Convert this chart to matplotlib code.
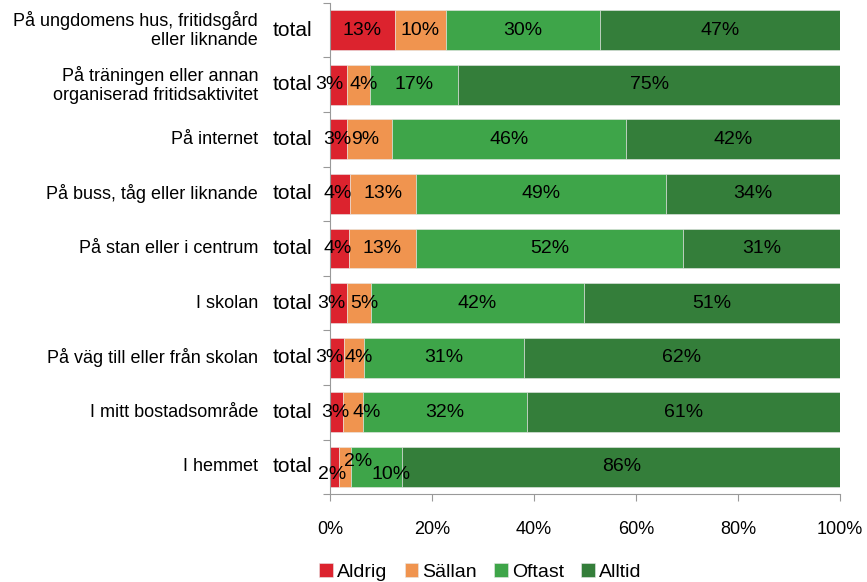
import numpy as np
import matplotlib.pyplot as plt

plt.rcParams['font.family'] = ['Liberation Sans', 'DejaVu Sans']

# categories, top to bottom
categories = [
    "På ungdomens hus, fritidsgård\neller liknande",
    "På träningen eller annan\norganiserad fritidsaktivitet",
    "På internet",
    "På buss, tåg eller liknande",
    "På stan eller i centrum",
    "I skolan",
    "På väg till eller från skolan",
    "I mitt bostadsområde",
    "I hemmet",
]
series = ["Aldrig", "Sällan", "Oftast", "Alltid"]

# segment widths (percent)
aldrig = [12.7, 3.3, 3.3, 3.9, 3.7, 3.4, 2.7, 2.5, 1.8]
sallan = [10.0, 4.5, 8.8, 12.9, 13.1, 4.6, 3.9, 3.9, 2.4]
oftast = [30.2, 17.3, 45.9, 49.0, 52.4, 41.8, 31.4, 32.2, 10.0]
alltid = [47.1, 74.9, 42.0, 34.2, 30.8, 50.2, 62.0, 61.4, 85.8]

# printed labels
lab_aldrig = [13, 3, 3, 4, 4, 3, 3, 3, 2]
lab_sallan = [10, 4, 9, 13, 13, 5, 4, 4, 2]
lab_oftast = [30, 17, 46, 49, 52, 42, 31, 32, 10]
lab_alltid = [47, 75, 42, 34, 31, 51, 62, 61, 86]

colors = ["#DC232E", "#F0944F", "#3EA549", "#347E3A"]

# label nudges (pixels) for the crowded small segments: (dx, dy) per row, per series
nudge = [
    [(0, 0), (0, 0), (0, 0)],
    [(-9, 0), (5, 0), (0, 0)],
    [(-1, 0), (-4, 0), (0, 0)],
    [(-2, 0), (0, 0), (0, 0)],
    [(-2, 0), (0, 0), (0, 0)],
    [(-7, 0), (5, 0), (0, 0)],
    [(-8, 0), (5, 0), (0, 0)],
    [(-1, 0), (14, 0), (0, 0)],
    [(-2, -8), (13, 5), (14, -8)],
]

fig = plt.figure(figsize=(8.67, 5.82), dpi=100)
ax = fig.add_axes([0.3806, 0.151, 0.5884, 0.844])

n = len(categories)
y = np.arange(n)
data = [aldrig, sallan, oftast, alltid]
labels = [lab_aldrig, lab_sallan, lab_oftast, lab_alltid]

left = np.zeros(n)
for k in range(4):
    vals = np.array(data[k]) / 100
    ax.barh(y, vals, left=left, height=0.73, color=colors[k],
            edgecolor="#e8e8e8", linewidth=0.4, label=series[k])
    for i in range(n):
        dx, dy = nudge[i][k] if k < 3 else (0, 0)
        ax.annotate(f"{labels[k][i]}%", (left[i] + vals[i] / 2, y[i]),
                    xytext=(dx, dy), textcoords="offset pixels",
                    ha="center", va="center", fontsize=14)
    left = left + vals

ax.set_xlim(0, 1)
ax.set_ylim(n - 0.5, -0.5)
ax.set_xticks(np.linspace(0, 1, 6))
ax.set_xticklabels([f"{int(v)}%" for v in np.linspace(0, 100, 6)], fontsize=13)
ax.set_yticks(np.arange(-0.5, n, 1))
ax.set_yticklabels([])
ax.tick_params(axis="y", length=5, color="#999999")
ax.tick_params(axis="x", length=5, color="#999999", pad=14)
for s in ["top", "right"]:
    ax.spines[s].set_visible(False)
ax.spines["left"].set_color("#999999")
ax.spines["bottom"].set_color("#999999")

tr = ax.get_yaxis_transform()
for i in range(n):
    ax.text(-0.035, y[i], "total", transform=tr, ha="right", va="center",
            fontsize=15)
    ax.text(-0.141, y[i], categories[i], transform=tr, ha="right",
            va="center", fontsize=13, linespacing=1.15)

fig.legend(loc="center", bbox_to_anchor=(0.554, 0.017), ncol=4,
           frameon=False, fontsize=14, handlelength=0.7, handleheight=0.7,
           handletextpad=0.2, columnspacing=0.9, borderaxespad=0)

fig.savefig("out.png", dpi=100)
